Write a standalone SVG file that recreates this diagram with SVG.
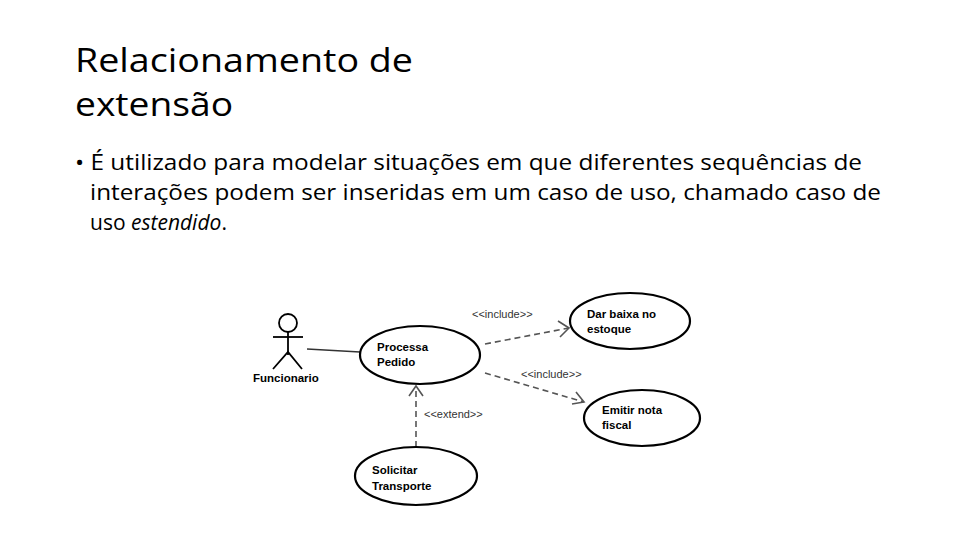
<svg xmlns="http://www.w3.org/2000/svg" width="960" height="540" viewBox="0 0 960 540">
<defs>
<style>
.t{font-family:"Open Sans","Liberation Sans",sans-serif;fill:#000}
.b{font-family:"Open Sans","Liberation Sans",sans-serif;font-size:21px;fill:#000}
.uc{fill:#fff;stroke:#000;stroke-width:2.2}
.nl{font-family:"Liberation Sans",Arial,sans-serif;font-size:11.5px;font-weight:bold;fill:#000}
.sl{font-family:"Liberation Sans",Arial,sans-serif;font-size:11px;fill:#333}
.dash{stroke:#555;stroke-width:1.6;stroke-dasharray:6,4;fill:none}
.ar{stroke:#555;stroke-width:1.6;fill:none}
</style>
</defs>
<rect width="960" height="540" fill="#fff"/>
<text class="t" x="75" y="72" font-size="33" textLength="338" lengthAdjust="spacingAndGlyphs">Relacionamento de</text>
<text class="t" x="75" y="116" font-size="33" textLength="158" lengthAdjust="spacingAndGlyphs">extensão</text>
<text class="b" x="75" y="170" textLength="787" lengthAdjust="spacingAndGlyphs">• É utilizado para modelar situações em que diferentes sequências de</text>
<text class="b" x="90" y="200" textLength="791" lengthAdjust="spacingAndGlyphs">interações podem ser inseridas em um caso de uso, chamado caso de</text>
<text class="b" x="90" y="230">uso <tspan font-style="italic">estendido</tspan>.</text>
<g id="connectors">
<line x1="307" y1="349" x2="360" y2="352" stroke="#333" stroke-width="1.3"/>
<line class="dash" x1="485" y1="344" x2="569" y2="328"/>
<polyline class="ar" points="558,321 569,328 560,337"/>
<text class="sl" x="472" y="318">&lt;&lt;include&gt;&gt;</text>
<line class="dash" x1="485" y1="373" x2="584" y2="402"/>
<polyline class="ar" points="576,392 584,402 572,404"/>
<text class="sl" x="521" y="378">&lt;&lt;include&gt;&gt;</text>
<line class="dash" x1="416" y1="447" x2="416" y2="386"/>
<polyline class="ar" points="409,396 416,386 423,396"/>
<text class="sl" x="424" y="418">&lt;&lt;extend&gt;&gt;</text>
</g>
<g id="actor" stroke="#000" stroke-width="1.8" fill="none">
<circle cx="288" cy="323" r="9"/>
<line x1="288" y1="332" x2="288" y2="355"/>
<line x1="273" y1="337" x2="303" y2="337"/>
<polyline points="273,369 288,352 302,369"/>
<text class="nl" x="253" y="382" stroke="none" font-size="11">Funcionario</text>
</g>
<g id="processa"><ellipse class="uc" cx="420" cy="355" rx="60" ry="29"/><text class="nl" x="377" y="351">Processa</text><text class="nl" x="377" y="366">Pedido</text></g>
<g id="darbaixa"><ellipse class="uc" cx="630" cy="321" rx="60" ry="28"/><text class="nl" x="587" y="318">Dar baixa no</text><text class="nl" x="587" y="333">estoque</text></g>
<g id="emitir"><ellipse class="uc" cx="642" cy="418" rx="58" ry="28"/><text class="nl" x="602" y="414">Emitir nota</text><text class="nl" x="602" y="429">fiscal</text></g>
<g id="solicitar"><ellipse class="uc" cx="416" cy="476" rx="61" ry="29"/><text class="nl" x="372" y="474">Solicitar</text><text class="nl" x="372" y="490">Transporte</text></g>
</svg>
